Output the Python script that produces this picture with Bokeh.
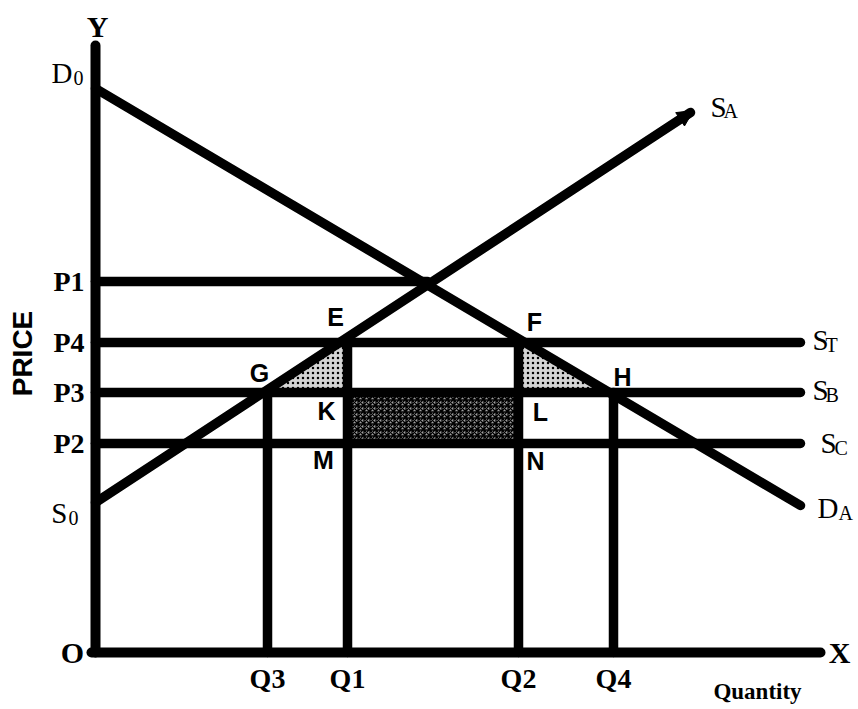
import math
from bokeh.plotting import figure
from bokeh.models import Arrow, NormalHead
from bokeh.core.properties import value
from bokeh.embed import file_html
from bokeh.resources import INLINE

# ---- data (economic diagram, arbitrary units) ----
price_labels = ["P1", "P4", "P3", "P2"]
prices = [37.1, 31.0, 26.0, 20.9]
qty_labels = ["Q3", "Q1", "Q2", "Q4"]
quantities = [17.2, 25.2, 42.3, 51.8]
demand_x = [0.0, 70.5]      # D0 -> DA
demand_y = [56.4, 14.7]
supply_x = [0.0, 59.5]      # S0 -> SA
supply_y = [15.0, 54.0]
axis_x_end = 72.5
axis_y_end = 60.7
line_x_end = 70.5
point_labels = ["E", "F", "G", "H", "K", "L", "M", "N"]

P1, P4, P3, P2 = prices
Q3, Q1, Q2, Q4 = quantities

SERIF = value("Liberation Serif")
SANS = value("Liberation Sans")

p = figure(width=858, height=709, x_range=(-9.5, 76.3), y_range=(-5.7, 65.2),
           x_axis_type=None, y_axis_type=None, output_backend="svg",
           toolbar_location=None, min_border=0)
p.outline_line_color = None
p.background_fill_color = "white"
p.grid.visible = False

# ---- shaded areas ----
p.patches(xs=[[Q3, Q1, Q1], [Q2, Q2, Q4]], ys=[[P3, P4, P3], [P4, P3, P3]],
          fill_color="#d4d4d4", hatch_pattern="dot", hatch_scale=5,
          hatch_color="black", hatch_weight=1.6, line_color=None)
p.quad(left=[Q1], right=[Q2], bottom=[P2], top=[P3], fill_color="#a0a0a0",
       hatch_pattern="criss_cross", hatch_scale=6, hatch_color="black",
       hatch_weight=1.3, line_color="black", line_width=2)

# ---- intersection of demand and supply (end of P1 line) ----
sd = (demand_y[1] - demand_y[0]) / (demand_x[1] - demand_x[0])
ss = (supply_y[1] - supply_y[0]) / (supply_x[1] - supply_x[0])
x_int = (demand_y[0] - supply_y[0]) / (ss - sd)

# ---- horizontal price lines ----
p.segment(x0=[0, 0, 0, 0], y0=prices, x1=[x_int, line_x_end, line_x_end, line_x_end],
          y1=prices, line_color="black", line_width=9.5, line_cap="round")
# ---- vertical quantity lines ----
tops = [P3, P4, P4, P3]
p.segment(x0=quantities, y0=[0] * 4, x1=quantities, y1=tops,
          line_color="black", line_width=9.5, line_cap="round")

# ---- demand & supply ----
p.line(demand_x, demand_y, line_color="black", line_width=9.5, line_cap="round")
p.line(supply_x, supply_y, line_color="black", line_width=9.5, line_cap="round")
ux = 0.6
p.add_layout(Arrow(end=NormalHead(size=16, fill_color="black", line_color="black"),
                   x_start=supply_x[1] - ux, y_start=supply_y[1] - ux * ss,
                   x_end=supply_x[1] + 0.3, y_end=supply_y[1] + 0.3 * ss,
                   line_color=None))

# ---- axes ----
p.segment(x0=[0, -0.4], y0=[0, 0], x1=[0, axis_x_end], y1=[axis_y_end, 0],
          line_color="black", line_width=10, line_cap="round")

# ---- price & quantity labels ----
p.text(x=[-1.1] * 4, y=prices, text=price_labels, text_font=SERIF,
       text_font_style="bold", text_font_size="28px", text_align="right",
       text_baseline="middle")
p.text(x=quantities, y=[-2.6] * 4, text=qty_labels, text_font=SERIF,
       text_font_style="bold", text_font_size="28px", text_align="center",
       text_baseline="middle")
p.text(x=[0.2, axis_x_end + 1.9, -2.3], y=[axis_y_end + 1.9, 0, 0],
       text=["Y", "X", "O"], text_font=SERIF, text_font_style="bold",
       text_font_size="30px", text_align="center", text_baseline="middle")
p.text(x=[66.2], y=[-3.9], text=["Quantity"], text_font=SERIF,
       text_font_style="bold", text_font_size="23px", text_align="center",
       text_baseline="middle")
p.text(x=[-7.3], y=[29.9], text=["PRICE"], text_font=SANS, text_font_style="bold",
       text_font_size="28px", angle=math.pi / 2, text_align="center",
       text_baseline="middle")

# ---- curve labels with subscripts ----
main_x = [-2.3, -2.8, supply_x[1] + 2.0, line_x_end + 1.2, line_x_end + 1.2,
          line_x_end + 2.0, demand_x[1] + 1.7]
main_y = [demand_y[0] + 1.6, supply_y[0] - 1.0, supply_y[1] + 0.6, P4 + 0.3,
          P3 + 0.3, P2 + 0.1, demand_y[1] - 0.2]
main_t = ["D", "S", "S", "S", "S", "S", "D"]
p.text(x=main_x, y=main_y, text=main_t, text_font=SERIF, text_font_size="29px",
       text_align=["right", "right", "left", "left", "left", "left", "left"],
       text_baseline="middle")
sub_x = [-2.2, -2.7, supply_x[1] + 3.3, line_x_end + 2.5, line_x_end + 2.5,
         line_x_end + 3.4, demand_x[1] + 3.8]
sub_y = [demand_y[0] + 1.1, supply_y[0] - 1.5, supply_y[1] + 0.2, P4 - 0.2,
         P3 - 0.2, P2 - 0.4, demand_y[1] - 0.7]
sub_t = ["0", "0", "A", "T", "B", "C", "A"]
p.text(x=sub_x, y=sub_y, text=sub_t, text_font=SERIF, text_font_size="20px",
       text_align="left", text_baseline="middle")

# ---- point labels ----
pt_x = [Q1 - 1.2, Q2 + 1.6, Q3 - 0.8, Q4 + 0.9, Q1 - 2.1, Q2 + 2.2, Q1 - 2.4, Q2 + 1.7]
pt_y = [P4 + 2.6, P4 + 2.1, P3 + 2.0, P3 + 1.6, P3 - 1.8, P3 - 1.9, P2 - 1.6, P2 - 1.7]
p.text(x=pt_x, y=pt_y, text=point_labels, text_font=SANS, text_font_style="bold",
       text_font_size="25px", text_align="center", text_baseline="middle")

open("out.html", "w").write(file_html(p, INLINE))
